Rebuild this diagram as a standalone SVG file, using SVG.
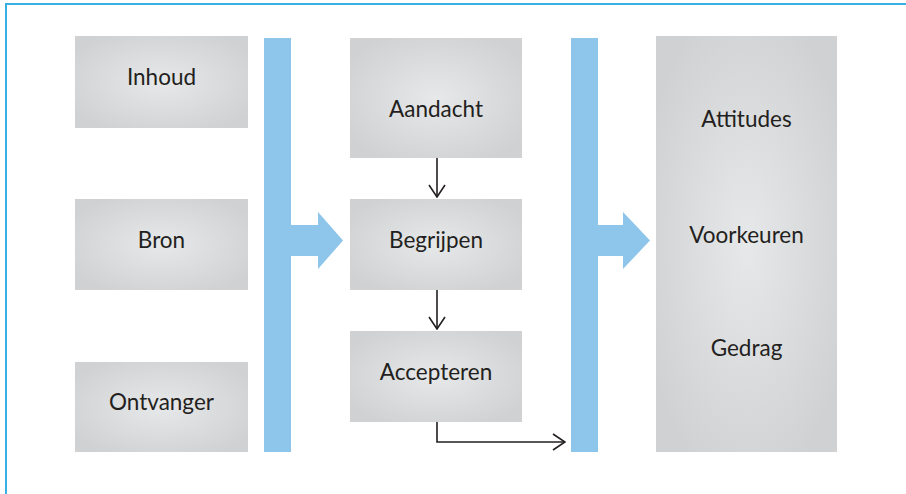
<svg xmlns="http://www.w3.org/2000/svg" width="906" height="494" viewBox="0 0 906 494">
<defs>
<radialGradient id="g" cx="50%" cy="50%" r="60%">
<stop offset="0" stop-color="#e7e8e9"/>
<stop offset="1" stop-color="#d0d1d3"/>
</radialGradient>
<marker id="ah" viewBox="0 0 14 18" refX="13" refY="9" markerWidth="14" markerHeight="18" markerUnits="userSpaceOnUse" orient="auto">
<path d="M1,1 L13,9 L1,17" fill="none" stroke="#231f20" stroke-width="1.6"/>
</marker>
<style>
.box{fill:url(#g);}
.bar{fill:#8dc5eb;}
.lbl{font-family:Lato,"Open Sans","Liberation Sans",sans-serif;font-size:22.5px;fill:#231f20;text-anchor:middle;}
.ln{fill:none;stroke:#231f20;stroke-width:1.6;marker-end:url(#ah);}
</style>
</defs>
<rect width="906" height="494" fill="#ffffff"/>
<path d="M6,494 L6,4 L906,4" fill="none" stroke="#3ab0e2" stroke-width="2"/>
<g id="inhoud"><rect class="box" x="75" y="36" width="173" height="92"/><text class="lbl" x="161.5" y="85">Inhoud</text></g>
<g id="bron"><rect class="box" x="75" y="199" width="173" height="91"/><text class="lbl" x="161.5" y="248">Bron</text></g>
<g id="ontvanger"><rect class="box" x="75" y="362" width="173" height="90"/><text class="lbl" x="161.5" y="410">Ontvanger</text></g>
<g id="bar1"><path class="bar" d="M264,38 H291 V225 H318 V212 L343,240.5 L318,269 V256 H291 V452 H264 Z"/></g>
<g id="aandacht"><rect class="box" x="350" y="38" width="172" height="120"/><text class="lbl" x="436" y="117">Aandacht</text></g>
<g id="begrijpen"><rect class="box" x="350" y="199" width="172" height="91"/><text class="lbl" x="436" y="248">Begrijpen</text></g>
<g id="accepteren"><rect class="box" x="350" y="331" width="172" height="91"/><text class="lbl" x="436" y="380">Accepteren</text></g>
<g id="bar2"><path class="bar" d="M571,38 H598 V225 H623 V212 L650,240.5 L623,269 V256 H598 V452 H571 Z"/></g>
<g id="effecten"><rect class="box" x="656" y="36" width="181" height="416"/>
<text class="lbl" x="746.5" y="127">Attitudes</text>
<text class="lbl" x="746.5" y="243">Voorkeuren</text>
<text class="lbl" x="746.5" y="356">Gedrag</text></g>
<g id="connectors">
<path class="ln" d="M437,158 V197"/>
<path class="ln" d="M437,290 V329"/>
<path class="ln" d="M437,422 V442 H565"/>
</g>
</svg>
